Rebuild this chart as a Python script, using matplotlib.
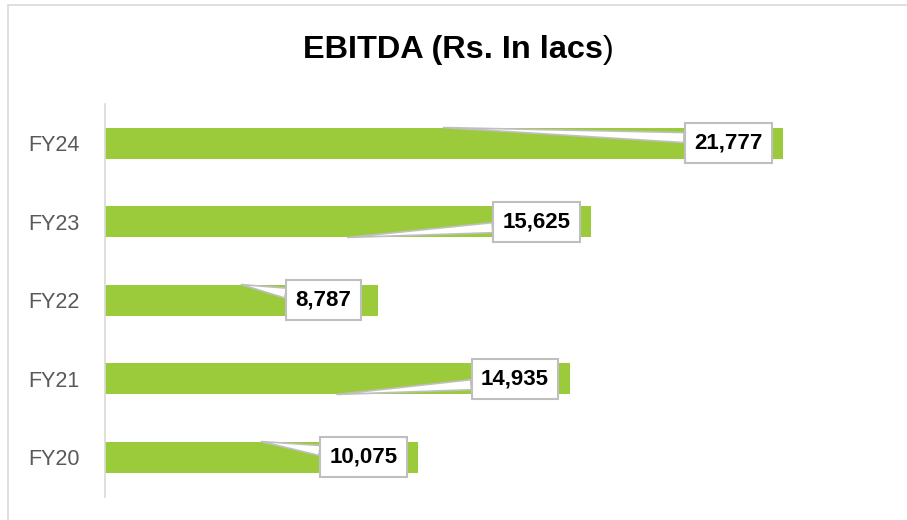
import matplotlib
matplotlib.use("Agg")
import matplotlib.pyplot as plt
from matplotlib.patches import Rectangle

categories = ["FY20", "FY21", "FY22", "FY23", "FY24"]
ebitda = [10075, 14935, 8787, 15625, 21777]
title_main = "EBITDA (Rs. In lacs"
title_end = ")"

plt.rcParams['font.family'] = ['Liberation Sans', 'DejaVu Sans']

W, H = 907, 520
fig = plt.figure(figsize=(W / 100, H / 100), dpi=100)
fig.patch.set_facecolor('white')

# outer chart border (left/top visible)
fig.patches.append(Rectangle((8 / W, -0.1), 1.2, 1 - 5 / H + 0.1,
                             transform=fig.transFigure, fill=False,
                             edgecolor='#d9d9d9', linewidth=1.2))

ax_left, ax_right, ax_top, ax_bottom = 104.5, 883, 104, 496.5
ax = fig.add_axes([ax_left / W, (H - ax_bottom) / H,
                   (ax_right - ax_left) / W, (ax_bottom - ax_top) / H])

bar_color = '#9BCB3B'
ypos = list(range(len(categories)))
ax.barh(ypos, ebitda, height=0.4, color=bar_color, zorder=2)

ax.set_xlim(0, 25000)
ax.set_ylim(-0.5, len(categories) - 0.5)
ax.set_yticks(ypos)
ax.set_yticklabels(categories, fontsize=15.5, color='#595959')
ax.set_xticks([])
ax.tick_params(axis='y', length=0, pad=18)
for s in ['top', 'right', 'bottom']:
    ax.spines[s].set_visible(False)
ax.spines['left'].set_color('#d9d9d9')
ax.spines['left'].set_linewidth(1.2)

# callout data labels
for i, v in enumerate(ebitda):
    side = 1 if i % 2 == 0 else -1
    tip = (v * 0.5, i + side * 0.2)
    ax.annotate(f"{v:,}", xy=tip, xycoords='data',
                xytext=(v - 1750, i), textcoords='data',
                ha='center', va='center', fontsize=16, fontweight='bold',
                color='black', zorder=5,
                bbox=dict(boxstyle='square,pad=0.42', facecolor='white',
                          edgecolor='#bfbfbf', linewidth=1.5),
                arrowprops=dict(arrowstyle='wedge,tail_width=0.45',
                                facecolor='white', edgecolor='#bfbfbf',
                                linewidth=1.2,
                                relpos=(0.0, 0.75 if side > 0 else 0.25),
                                shrinkA=0, shrinkB=0))

# title with non-bold closing parenthesis
t1 = fig.text(0.5, 1 - 50 / H, title_main, ha='center', va='center',
              fontsize=23.4, fontweight='bold', color='black')
fig.canvas.draw()
bb = t1.get_window_extent()
t2 = fig.text(0, 0, title_end, fontsize=23.4, color='black', va='center')
bb2 = t2.get_window_extent()
total = bb.width + bb2.width
x0 = (W - total) / 2 + 5
t1.set_ha('left')
t1.set_position((x0 / W, 1 - 50 / H))
t2.set_position(((x0 + bb.width) / W, 1 - 50 / H))

fig.savefig('out.png', dpi=100, facecolor='white')
